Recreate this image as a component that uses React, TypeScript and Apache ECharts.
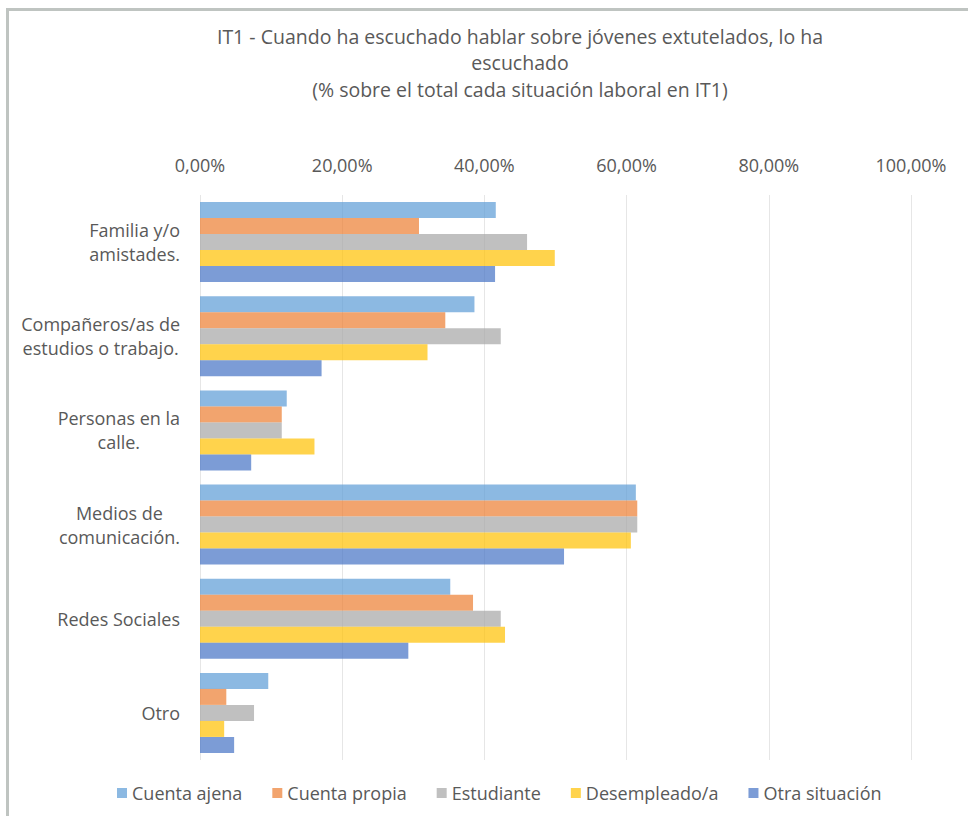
import React, { useEffect, useRef } from 'react';
import * as echarts from 'echarts';

const titleLines = [
  'IT1 - Cuando ha escuchado hablar sobre jóvenes extutelados, lo ha',
  'escuchado',
  '(% sobre el total cada situación laboral en IT1)',
];

const categories = [
  'Familia y/o\namistades.',
  'Compañeros/as de\nestudios o trabajo.',
  'Personas en la\ncalle.',
  'Medios de\ncomunicación.',
  'Redes Sociales',
  'Otro',
];

const seriesNames = ['Cuenta ajena', 'Cuenta propia', 'Estudiante', 'Desempleado/a', 'Otra situación'];

const cuentaAjena = [41.6, 38.6, 12.2, 61.3, 35.2, 9.6];
const cuentaPropia = [30.8, 34.5, 11.5, 61.5, 38.4, 3.7];
const estudiante = [46.0, 42.3, 11.5, 61.5, 42.3, 7.6];
const desempleado = [49.9, 32.0, 16.1, 60.6, 42.9, 3.4];
const otraSituacion = [41.5, 17.1, 7.2, 51.2, 29.3, 4.8];

const seriesValues = [cuentaAjena, cuentaPropia, estudiante, desempleado, otraSituacion];
const seriesColors = ['#5B9BD5', '#ED7D31', '#A5A5A5', '#FFC000', '#4472C4'];

const FONT = '"Open Sans", sans-serif';
const TEXT = '#595959';

export default function App() {
  const ref = useRef<HTMLDivElement>(null);
  useEffect(() => {
    const chart = echarts.init(ref.current!, null, { renderer: 'svg' });
    chart.setOption({
      animation: false,
      textStyle: { fontFamily: FONT },
      graphic: [
        { type: 'rect', shape: { x: 6, y: 8, width: 962, height: 3 }, style: { fill: '#BFC4C1' }, silent: true },
        { type: 'rect', shape: { x: 6, y: 8, width: 3, height: 808 }, style: { fill: '#BFC4C1' }, silent: true },
        {
          type: 'text',
          x: 520,
          y: 23,
          style: {
            text: titleLines.join('\n'),
            align: 'center',
            verticalAlign: 'top',
            fontSize: 19.5,
            lineHeight: 26.5,
            fill: TEXT,
            fontFamily: FONT,
          },
        },
      ],
      legend: {
        top: 778,
        left: 112,
        icon: 'rect',
        itemWidth: 10,
        itemHeight: 10,
        itemGap: 30,
        textStyle: { color: TEXT, fontSize: 18, fontFamily: FONT, lineHeight: 20 },
        data: seriesNames,
      },
      grid: { left: 200, right: 57, top: 195, bottom: 56 },
      xAxis: {
        type: 'value',
        position: 'top',
        min: 0,
        max: 100,
        interval: 20,
        axisLine: { show: false },
        axisTick: { show: false },
        splitLine: { lineStyle: { color: '#E6E6E6', width: 1 } },
        axisLabel: {
          color: TEXT,
          fontSize: 18,
          margin: 21,
          fontFamily: FONT,
          formatter: (v: number) => v.toFixed(2).replace('.', ',') + '%',
        },
      },
      yAxis: {
        type: 'category',
        inverse: true,
        data: categories,
        axisLine: { show: false },
        axisTick: { show: false },
        axisLabel: {
          margin: 20,
          align: 'right',
          formatter: (v: string) => v.split('\n').map((l) => `{a|${l}}`).join('\n'),
          rich: {
            a: { align: 'center', fontSize: 18, lineHeight: 24, color: TEXT, fontFamily: FONT },
          },
        },
      },
      series: seriesNames.map((name, i) => ({
        name,
        type: 'bar',
        data: seriesValues[i],
        barGap: '0%',
        barCategoryGap: '15%',
        itemStyle: { color: seriesColors[i], opacity: 0.7 },
      })),
    });
    return () => chart.dispose();
  }, []);
  return <div ref={ref} style={{ position: 'absolute', left: 0, top: 0, width: 968, height: 816 }} />;
}
